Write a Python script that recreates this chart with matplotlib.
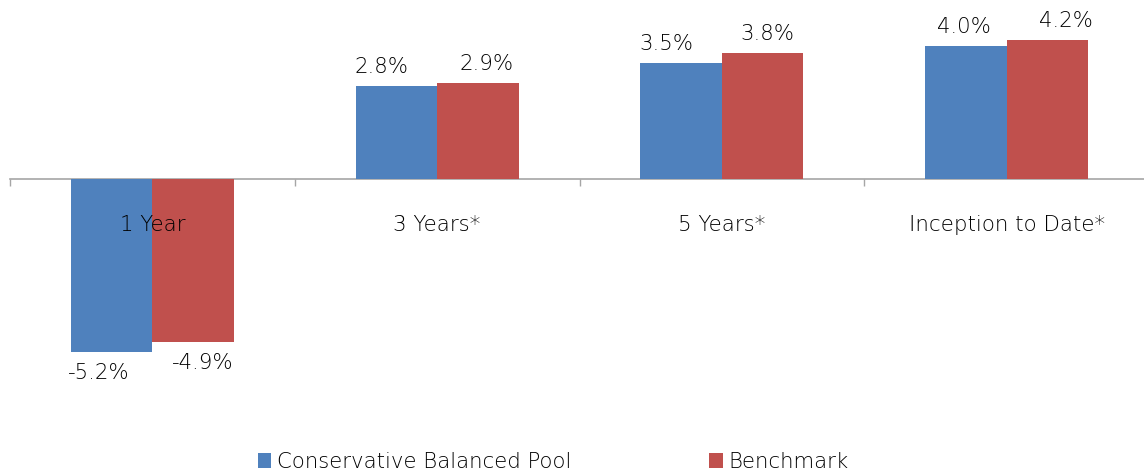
import matplotlib
matplotlib.use("Agg")
import matplotlib.pyplot as plt
import numpy as np

categories = ["1 Year", "3 Years*", "5 Years*", "Inception to Date*"]
pool = [-5.2, 2.8, 3.5, 4.0]
benchmark = [-4.9, 2.9, 3.8, 4.2]
series_names = ["Conservative Balanced Pool", "Benchmark"]
colors = ["#4F81BD", "#C0504D"]

# label horizontal nudges (px) as in the reference layout
pool_label_dx = [-13, -15, -15, -1.5]
bench_label_dx = [10, 8.5, 5, 18.5]

plt.rcParams['font.family'] = ['DejaVu Sans']

W, H = 1144, 474
fig = plt.figure(figsize=(W / 100, H / 100), dpi=100)
ax_left, ax_right = 10, 1149
ax_top, ax_bot = 0, 430
ax = fig.add_axes([ax_left / W, 1 - ax_bot / H, (ax_right - ax_left) / W, (ax_bot - ax_top) / H])

pxper = 33.2
zero_px = 179
ax.set_ylim(-(ax_bot - zero_px) / pxper, (zero_px - ax_top) / pxper)
ax.set_xlim(-0.5, len(categories) - 0.5)

x = np.arange(len(categories))
bw = 0.286
b1 = ax.bar(x - bw / 2, pool, bw, color=colors[0], label=series_names[0], zorder=2)
b2 = ax.bar(x + bw / 2, benchmark, bw, color=colors[1], label=series_names[1], zorder=2)

txtc = "#000000"
pt = 72 / 100
for bars, vals, dxs in ((b1, pool, pool_label_dx), (b2, benchmark, bench_label_dx)):
    for rect, v, dx in zip(bars, vals, dxs):
        cx = rect.get_x() + rect.get_width() / 2
        if v >= 0:
            ax.annotate(f"{v:.1f}%", (cx, v), xytext=(dx * pt, 13 * pt), textcoords="offset points",
                        ha="center", va="baseline", fontsize=15.3, color=txtc, fontweight="light")
        else:
            ax.annotate(f"{v:.1f}%", (cx, v), xytext=(dx * pt, -27.5 * pt), textcoords="offset points",
                        ha="center", va="baseline", fontsize=15.3, color=txtc, fontweight="light")

for xi, c in zip(x, categories):
    ax.annotate(c, (xi, 0), xytext=(0, -52 * pt), textcoords="offset points",
                ha="center", va="baseline", fontsize=15.4, color=txtc, zorder=3, fontweight="light")

for s in ["top", "right", "left"]:
    ax.spines[s].set_visible(False)
ax.spines["bottom"].set_position(("data", 0))
ax.spines["bottom"].set_color("#A6A6A6")
ax.spines["bottom"].set_linewidth(1.2)
ax.spines["bottom"].set_zorder(1)
ax.set_xticks(np.arange(-0.5, len(categories) + 0.5, 1.0))
ax.set_xticklabels([])
ax.tick_params(axis="x", direction="out", length=5, color="#A6A6A6", width=1)
ax.set_yticks([])

leg = fig.legend(handles=[b1, b2], labels=series_names, loc="center",
                 bbox_to_anchor=(553 / W, 1 - 462 / H), ncol=2, frameon=False,
                 prop={"size": 15.3, "weight": "light"}, handlelength=0.65, handleheight=0.65,
                 handletextpad=0.25, columnspacing=6.5, labelcolor=txtc)

fig.savefig("out.png", dpi=100)
